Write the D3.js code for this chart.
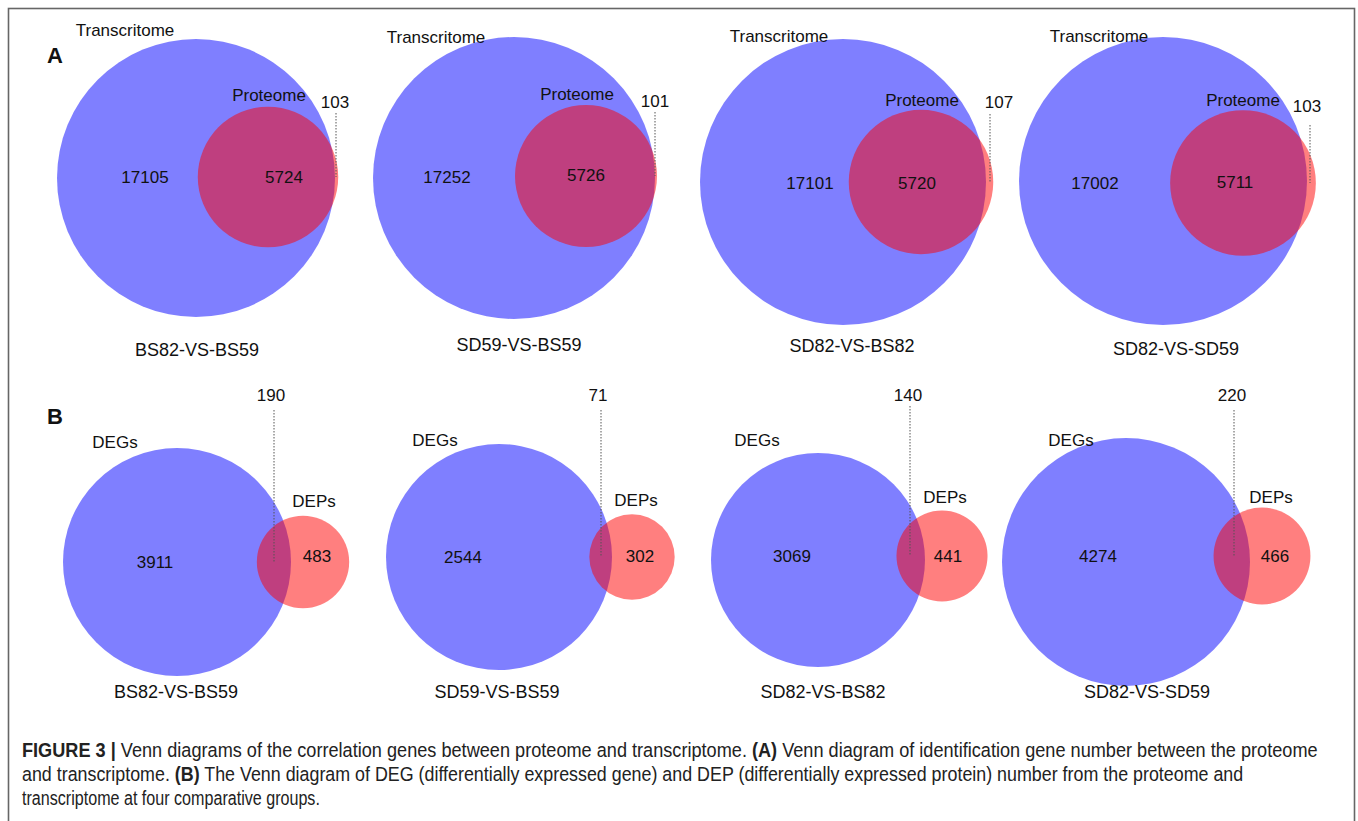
<!DOCTYPE html>
<html>
<head>
<meta charset="utf-8">
<script src="https://cdn.jsdelivr.net/npm/d3@7"></script>
<style>
  html, body { margin: 0; padding: 0; background: #fff; }
  svg { display: block; }
  text { font-family: "Liberation Sans", Arial, Helvetica, sans-serif; fill: #111; }
</style>
</head>
<body>
<svg id="fig" width="1358" height="821"></svg>
<script>
// ---- data -------------------------------------------------------------
const groups = ["BS82-VS-BS59", "SD59-VS-BS59", "SD82-VS-BS82", "SD82-VS-SD59"];

// Panel A: identified genes (transcriptome) vs identified proteins (proteome)
const setNamesA = ["Transcritome", "Proteome"];
const transOnly = [17105, 17252, 17101, 17002];
const transProtShared = [5724, 5726, 5720, 5711];
const protOnly = [103, 101, 107, 103];

// Panel B: DEGs vs DEPs
const setNamesB = ["DEGs", "DEPs"];
const degOnly = [3911, 2544, 3069, 4274];
const degDepShared = [190, 71, 140, 220];
const depOnly = [483, 302, 441, 466];

// ---- layout ------------------------------------------------------------
// big: centre / radius of the large set; small: centre of the small set;
// labels are [x, y] anchors (text centre).
const layoutA = [
  { big: [196, 178, 139], small: [268, 177], bigLab: [125, 30], smallLab: [269, 95], outLab: [335, 102],
    lead: [336, 113], onlyNum: [145, 177], sharedNum: [284, 177], title: [197, 350] },
  { big: [514, 178, 141], small: [586, 176], bigLab: [436, 37], smallLab: [577, 94], outLab: [655, 101],
    lead: [655, 112], onlyNum: [447, 177], sharedNum: [586, 175], title: [519, 345] },
  { big: [843, 182, 143], small: [921, 182], bigLab: [779, 36], smallLab: [922, 100], outLab: [999, 102],
    lead: [990, 114], onlyNum: [810, 183], sharedNum: [917, 183], title: [852, 346] },
  { big: [1163, 181, 144], small: [1243, 183], bigLab: [1099, 36], smallLab: [1243, 100], outLab: [1307, 106],
    lead: [1310, 125], onlyNum: [1095, 183], sharedNum: [1235, 182], title: [1176, 349] }
];
const layoutB = [
  { big: [177, 562, 114], small: [303, 562], bigLab: [115, 442], smallLab: [314, 501], outLab: [271, 395],
    lead: [274, 410], onlyNum: [155, 562], sideNum: [317, 556], title: [176, 692] },
  { big: [499, 557, 113], small: [632, 557], bigLab: [435, 440], smallLab: [636, 500], outLab: [598, 395],
    lead: [601, 410], onlyNum: [463, 557], sideNum: [640, 556], title: [497, 692] },
  { big: [818, 560, 107], small: [942, 556], bigLab: [757, 440], smallLab: [945, 497], outLab: [908, 395],
    lead: [910, 406], onlyNum: [792, 556], sideNum: [948, 556], title: [823, 692] },
  { big: [1126, 562, 124], small: [1262, 556], bigLab: [1071, 440], smallLab: [1271, 497], outLab: [1232, 395],
    lead: [1234, 410], onlyNum: [1098, 556], sideNum: [1275, 556], title: [1147, 692] }
];

const svg = d3.select("#fig");
const FS = 17;

// frame
svg.append("rect")
  .attr("x", 8.5).attr("y", 8.5).attr("width", 1346).attr("height", 900)
  .attr("fill", "none").attr("stroke", "#666").attr("stroke-width", 1.6);

function label(x, y, txt, size, weight) {
  return svg.append("text")
    .attr("x", x).attr("y", y).attr("dy", "0.36em")
    .attr("text-anchor", "middle")
    .attr("font-size", size || FS)
    .attr("font-weight", weight || "normal")
    .text(txt);
}

// one proportional Venn pair: areas follow the set totals
function venn(lay, bigTotal, smallTotal, leadToY) {
  const r = d3.scaleSqrt().domain([0, bigTotal]).range([0, lay.big[2]]);
  const g = svg.append("g");
  g.append("circle")
    .attr("cx", lay.big[0]).attr("cy", lay.big[1]).attr("r", r(bigTotal))
    .attr("fill", "rgb(0,0,255)").attr("fill-opacity", 0.5);
  g.append("circle")
    .attr("cx", lay.small[0]).attr("cy", lay.small[1]).attr("r", r(smallTotal))
    .attr("fill", "rgb(255,0,0)").attr("fill-opacity", 0.5);
  svg.append("line")
    .attr("x1", lay.lead[0]).attr("x2", lay.lead[0])
    .attr("y1", lay.lead[1]).attr("y2", leadToY)
    .attr("stroke", "#555").attr("stroke-width", 1)
    .attr("stroke-dasharray", "1.5,1.5");
}

// ---- panel A -----------------------------------------------------------
groups.forEach((grp, i) => {
  const L = layoutA[i];
  const bigTotal = transOnly[i] + transProtShared[i];
  const smallTotal = transProtShared[i] + protOnly[i];
  venn(L, bigTotal, smallTotal, L.small[1]);
  label(L.bigLab[0], L.bigLab[1], setNamesA[0]);
  label(L.smallLab[0], L.smallLab[1], setNamesA[1]);
  label(L.outLab[0], L.outLab[1], protOnly[i]);
  label(L.onlyNum[0], L.onlyNum[1], transOnly[i]);
  label(L.sharedNum[0], L.sharedNum[1], transProtShared[i]);
  label(L.title[0], L.title[1], grp, 18);
});

// ---- panel B -----------------------------------------------------------
groups.forEach((grp, i) => {
  const L = layoutB[i];
  const bigTotal = degOnly[i] + degDepShared[i];
  const smallTotal = depOnly[i] + degDepShared[i];
  venn(L, bigTotal, smallTotal, L.small[1]);
  label(L.bigLab[0], L.bigLab[1], setNamesB[0]);
  label(L.smallLab[0], L.smallLab[1], setNamesB[1]);
  label(L.outLab[0], L.outLab[1], degDepShared[i]);
  label(L.onlyNum[0], L.onlyNum[1], degOnly[i]);
  label(L.sideNum[0], L.sideNum[1], depOnly[i]);
  label(L.title[0], L.title[1], grp, 18);
});

// panel letters
label(55, 55, "A", 22, "bold");
label(55, 416, "B", 22, "bold");

// ---- caption -----------------------------------------------------------
const captionLines = [
  [["FIGURE 3 |", true], [" Venn diagrams of the correlation genes between proteome and transcriptome. ", false],
   ["(A)", true], [" Venn diagram of identification gene number between the proteome", false]],
  [["and transcriptome. ", false], ["(B)", true],
   [" The Venn diagram of DEG (differentially expressed gene) and DEP (differentially expressed protein) number from the proteome and", false]],
  [["transcriptome at four comparative groups.", false]]
];
const captionY = [750, 774, 798];
const captionWidths = [1296, 1222, 298];

// condensed caption face: each line squeezed horizontally to its measure
captionLines.forEach((parts, k) => {
  const t = svg.append("text")
    .attr("x", 0).attr("y", 0)
    .attr("font-size", 19.5)
    .style("fill", "#222");
  parts.forEach(([s, b]) => {
    t.append("tspan").attr("font-weight", b ? "bold" : "normal").text(s);
  });
  const sx = captionWidths[k] / t.node().getComputedTextLength();
  t.attr("transform", `translate(22,${captionY[k] + 7}) scale(${sx},1)`);
});
</script>
</body>
</html>
